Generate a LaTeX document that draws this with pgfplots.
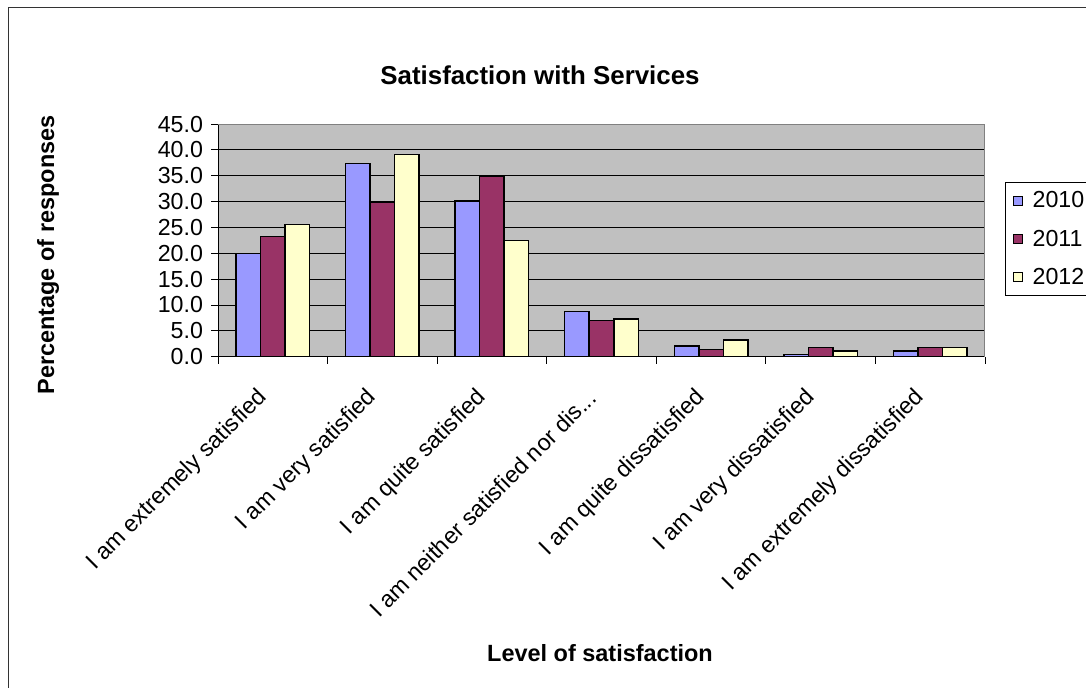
\documentclass[border=0pt]{standalone}
\usepackage{fontspec}
\setmainfont{Liberation Sans}
\usepackage{pgfplots}
\pgfplotsset{compat=1.18}
\usepackage{pgfplotstable}

\definecolor{c2010}{HTML}{9999FF}
\definecolor{c2011}{HTML}{993366}
\definecolor{c2012}{HTML}{FFFFCC}
\definecolor{plotbg}{HTML}{C0C0C0}
\definecolor{chartframe}{HTML}{333333}
\definecolor{areaframe}{HTML}{808080}

% Share of responses (%) per level of satisfaction, by survey year
\pgfplotstableread{
idx y2010 y2011 y2012
0 20.0 23.2 25.6
1 37.4 29.8 39.1
2 30.1 34.9 22.5
3 8.7 7.0 7.3
4 2.1 1.4 3.2
5 0.4 1.75 1.1
6 1.1 1.75 1.75
}\satdata

\newcommand{\neitherlabel}{I am neither satisfied nor dis.{}.{}.}

\begin{document}
\begin{tikzpicture}[x=0.75pt,y=0.75pt]
\path[use as bounding box] (0,0) rectangle (1086,688);
% chart frame
\draw[chartframe, line width=1.1pt] (8.5,-5) -- (8.5,680.5) -- (1095,680.5);
\node[font=\bfseries\fontsize{19.4}{23}\selectfont] at (540,613) {Satisfaction with Services};
\node[font=\bfseries\fontsize{17.6}{21}\selectfont, rotate=90] at (48,433) {Percentage of responses};
\node[font=\bfseries\fontsize{17.6}{21}\selectfont] at (600,35) {Level of satisfaction};

\begin{axis}[
  at={(163.5pt,248.475pt)}, anchor=south west,
  scale only axis, width=575.25pt, height=174.5pt,
  xmin=-0.5, xmax=6.5, ymin=0, ymax=45,
  ybar=0pt, bar width=18.4pt,
  axis x line*=bottom, axis y line*=left,
  axis line style={black, line width=0.6pt},
  axis background/.style={fill=plotbg},
  ytick={0,5,...,45},
  ymajorgrids, grid style={black, line width=0.6pt},
  /pgf/number format/assume math mode=true,
  yticklabel style={xshift=-2.5pt, /pgf/number format/.cd, fixed, fixed zerofill, precision=1},
  tick label style={font=\fontsize{17.4}{20}\selectfont},
  tick align=outside, major tick length=5.25pt,
  tick style={black, line width=0.6pt},
  xtick={-0.5,0.5,1.5,2.5,3.5,4.5,5.5,6.5},
  xticklabels={,,,,,,,},
  extra x ticks={0,1,2,3,4,5,6},
  extra x tick labels={I am extremely satisfied, I am very satisfied, I am quite satisfied, {\neitherlabel}, I am quite dissatisfied, I am very dissatisfied, I am extremely dissatisfied},
  extra x tick style={major tick length=0pt},
  xticklabel style={xshift=-7pt, yshift=-1pt, rotate=45, anchor=east, inner sep=0pt},
  xticklabel shift=27pt,
  legend style={at={(1.0261,0.7508)}, anchor=north west, draw=black, line width=0.6pt,
    fill=white, font=\fontsize{17.4}{20}\selectfont, inner xsep=6pt, inner ysep=5pt,
    row sep=11pt, cells={anchor=west},
    /tikz/every odd column/.append style={column sep=5pt}},
  legend image code/.code={\draw[#1, line width=0.6pt] (0pt,-3.4pt) rectangle (6.8pt,3.4pt);},
]
\addplot[fill=c2010, draw=black, line width=1.1pt] table[x=idx, y=y2010] {\satdata};
\addplot[fill=c2011, draw=black, line width=1.1pt] table[x=idx, y=y2011] {\satdata};
\addplot[fill=c2012, draw=black, line width=1.1pt] table[x=idx, y=y2012] {\satdata};
\legend{2010,2011,2012}
\draw[areaframe, line width=0.8pt] (rel axis cs:0,1) -- (rel axis cs:1,1) -- (rel axis cs:1,0);
\end{axis}
\end{tikzpicture}
\end{document}
